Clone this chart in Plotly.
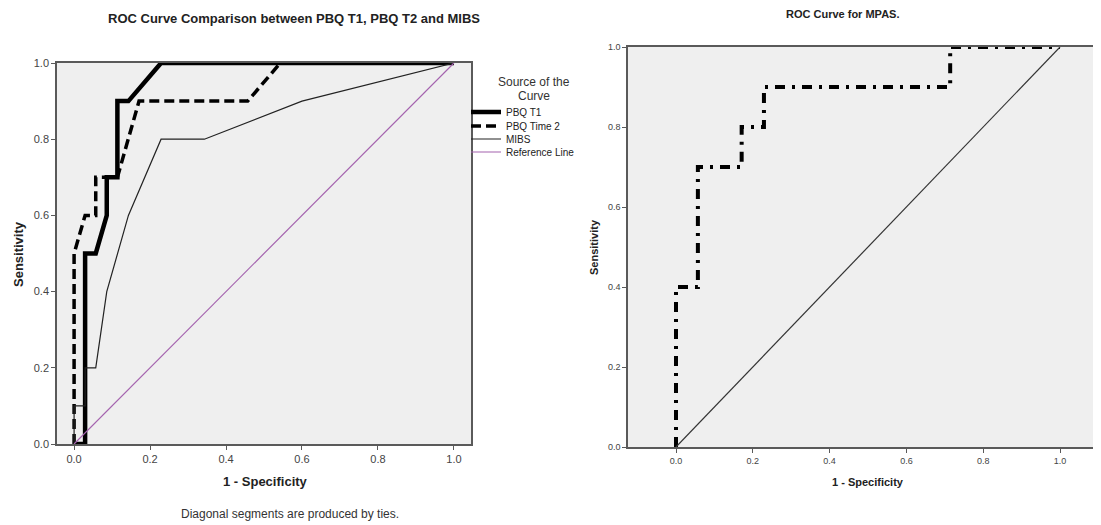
import plotly.graph_objects as go

# ---- data (left chart) ----
pbq_t1_x = [0, 0.029, 0.029, 0.057, 0.086, 0.086, 0.114, 0.114, 0.143, 0.229, 1.0]
pbq_t1_y = [0, 0, 0.5, 0.5, 0.6, 0.7, 0.7, 0.9, 0.9, 1.0, 1.0]

pbq_t2_x = [0, 0, 0.029, 0.057, 0.057, 0.114, 0.171, 0.457, 0.543, 1.0]
pbq_t2_y = [0, 0.5, 0.6, 0.6, 0.7, 0.7, 0.9, 0.9, 1.0, 1.0]

mibs_x = [0, 0, 0.029, 0.029, 0.057, 0.086, 0.143, 0.229, 0.343, 0.6, 1.0]
mibs_y = [0, 0.1, 0.1, 0.2, 0.2, 0.4, 0.6, 0.8, 0.8, 0.9, 1.0]

ref_x = [0, 1]
ref_y = [0, 1]

# ---- data (right chart) ----
mpas_x = [0, 0, 0.057, 0.057, 0.171, 0.171, 0.229, 0.229, 0.714, 0.714, 1.0]
mpas_y = [0, 0.4, 0.4, 0.7, 0.7, 0.8, 0.8, 0.9, 0.9, 1.0, 1.0]

ticks = [0.0, 0.2, 0.4, 0.6, 0.8, 1.0]
tick_text = ["0.0", "0.2", "0.4", "0.6", "0.8", "1.0"]

W, H = 1101, 525
OFF = 8  # page body margin
def px(x):
    return (x - OFF) / W
def py(y):
    return 1 - (y - OFF) / H

FONT = "Liberation Sans, Arial, sans-serif"
AX = "#5a5a5a"

fig = go.Figure()

fig.add_trace(go.Scatter(x=pbq_t1_x, y=pbq_t1_y, mode="lines", name="PBQ T1",
                         line=dict(color="black", width=4.5), xaxis="x", yaxis="y",
                         legend="legend"))
fig.add_trace(go.Scatter(x=pbq_t2_x, y=pbq_t2_y, mode="lines", name="PBQ Time 2",
                         line=dict(color="black", width=3.5, dash="10px,5px"), xaxis="x", yaxis="y",
                         legend="legend2"))
fig.add_trace(go.Scatter(x=mibs_x, y=mibs_y, mode="lines", name="MIBS",
                         line=dict(color="#222222", width=1.2), xaxis="x", yaxis="y",
                         legend="legend3"))
fig.add_trace(go.Scatter(x=ref_x, y=ref_y, mode="lines", name="Reference Line",
                         line=dict(color="#a463ae", width=1.2), xaxis="x", yaxis="y",
                         legend="legend4"))

fig.add_trace(go.Scatter(x=mpas_x, y=mpas_y, mode="lines", name="MPAS",
                         line=dict(color="black", width=4, dash="10px,7px,3px,7px"),
                         xaxis="x2", yaxis="y2", showlegend=False))
fig.add_trace(go.Scatter(x=ref_x, y=ref_y, mode="lines", name="Reference",
                         line=dict(color="#333333", width=1.2),
                         xaxis="x2", yaxis="y2", showlegend=False))

axis_common = dict(showline=True, linecolor=AX, linewidth=1.5, mirror=True,
                   ticks="outside", ticklen=4, tickcolor=AX, showgrid=False,
                   zeroline=False, tickvals=ticks, ticktext=tick_text,
                   automargin=False)

def leg(ycen):
    return dict(x=px(466), y=py(ycen), xanchor="left", yanchor="middle",
                bgcolor="rgba(0,0,0,0)", font=dict(size=10, color="#222", family=FONT),
                itemwidth=30, borderwidth=0)

# right plot: x=0 at 676px, 384 px per unit, right border just outside the window
r_left = (628 - 676) / 384
r_right = (W + OFF - 676) / 384

fig.update_layout(
    width=W, height=H,
    margin=dict(l=0, r=0, t=0, b=0, pad=0, autoexpand=False),
    paper_bgcolor="white",
    plot_bgcolor="#efefef",
    font=dict(family=FONT, color="#333333", size=11),
    xaxis=dict(domain=[px(57), px(471)], range=[-0.045, 1.045], anchor="y",
               tickfont=dict(size=11, color="#444"), **axis_common),
    yaxis=dict(domain=[py(444), py(63)], range=[0, 1], anchor="x",
               tickfont=dict(size=11, color="#444"), **axis_common),
    xaxis2=dict(domain=[px(628), 1.0], range=[r_left, r_right], anchor="y2",
                tickfont=dict(size=9, color="#444"), **axis_common),
    yaxis2=dict(domain=[py(447), py(47)], range=[0, 1], anchor="x2",
                tickfont=dict(size=9, color="#444"), **axis_common),
    legend=leg(112),
    legend2=leg(126),
    legend3=leg(139),
    legend4=leg(152),
    showlegend=True,
)

ann = []
def add_text(text, x, y, size, bold=False, angle=0, color="#222"):
    ann.append(dict(text=("<b>%s</b>" % text) if bold else text, x=px(x), y=py(y),
                    xref="paper", yref="paper", showarrow=False,
                    xanchor="center", yanchor="middle", textangle=angle,
                    font=dict(size=size, color=color, family=FONT)))

add_text("ROC Curve Comparison between PBQ T1, PBQ T2 and MIBS", 294, 18, 13, bold=True)
add_text("Sensitivity", 18, 254, 13, bold=True, angle=-90)
add_text("1 - Specificity", 265, 482, 13, bold=True)
add_text("Diagonal segments are produced by ties.", 290, 514, 12, color="#333")
add_text("ROC Curve for MPAS.", 842, 14, 11, bold=True)
add_text("Sensitivity", 594, 247, 11, bold=True, angle=-90)
add_text("1 - Specificity", 868, 482, 11, bold=True)
add_text("Source of the", 534, 82, 12, color="#333")
add_text("Curve", 534, 96, 12, color="#333")

fig.update_layout(annotations=ann)

fig.write_html("out.html")
